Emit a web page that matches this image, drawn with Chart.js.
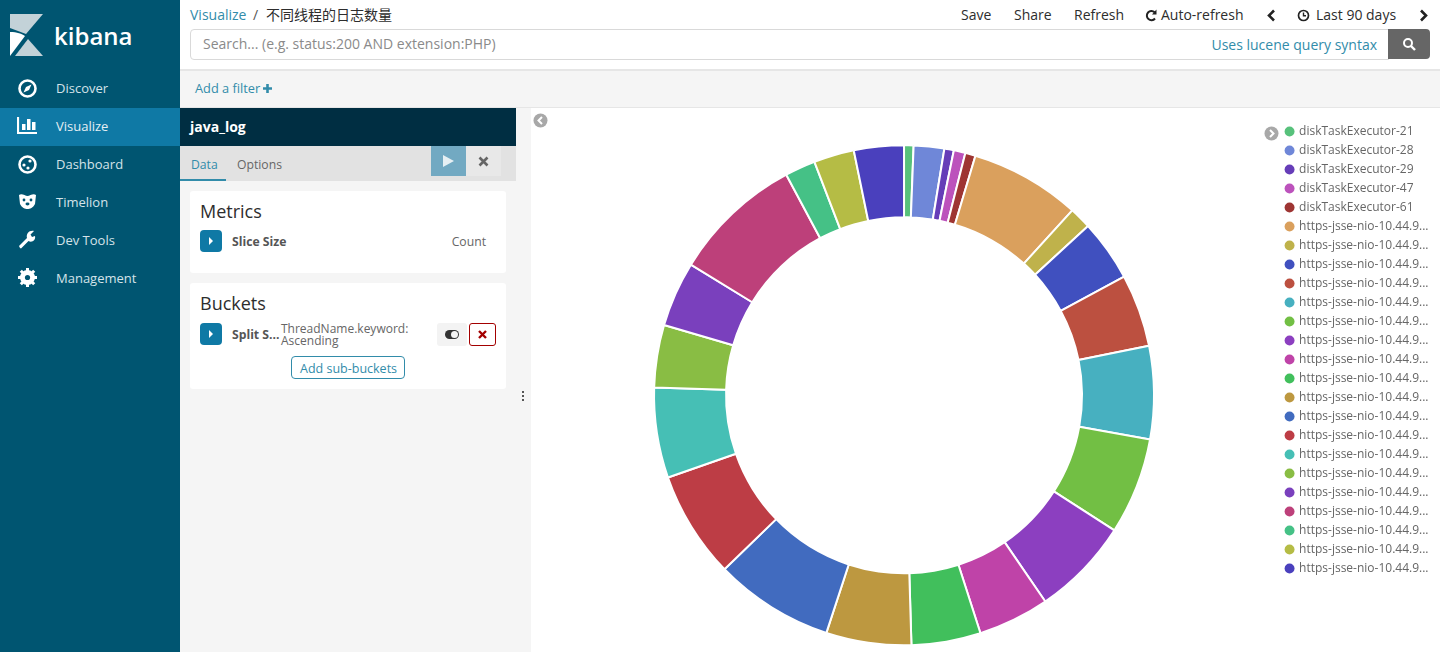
<!DOCTYPE html>
<html>
<head>
<meta charset="utf-8">
<title>不同线程的日志数量</title>
<script src="https://cdn.jsdelivr.net/npm/chart.js@4/dist/chart.umd.min.js"></script>
<style>
html, body { margin: 0; padding: 0; width: 1440px; height: 652px; overflow: hidden; background: #fff; }
body { font-family: "Open Sans", "Noto Sans CJK SC", sans-serif; color: #2d2d2d; font-size: 14px; }
.b { position: absolute; box-sizing: border-box; }
.t { position: absolute; white-space: nowrap; transform: translateY(-50%); line-height: 1.2; }
.link { color: #328caa; }
.nav { color: #d5e3e9; font-size: 13px; left: 56px; }
.ic { position: absolute; left: 17px; width: 21px; height: 21px; }
/* taller than the viewport on purpose: the ring centre has to sit low while the legend starts high */
#chartClip { position: absolute; left: 529px; top: 108px; width: 911px; height: 544px; overflow: hidden; }
#chartBox { position: absolute; left: 0; top: 0; width: 911px; height: 564px; }
</style>
</head>
<body>
<!-- sidebar -->
<div class="b" style="left:0;top:0;width:180px;height:652px;background:#005571"></div>
<div class="b" style="left:0;top:108px;width:180px;height:38px;background:#0f79a5"></div>
<svg class="b" style="left:10px;top:14px" width="34" height="43" viewBox="0 0 34 43">
  <polygon points="0,0 33,0 16,20 0,14" fill="#c3d2d8"/>
  <path d="M0,18 C7,18 12,20 15,22 L0,42 Z" fill="#fff"/>
  <polygon points="18,25 33,42 5,42" fill="#c3d2d8"/>
</svg>
<div class="t" style="left:54px;top:36px;font-size:24px;font-weight:600;color:#fff">kibana</div>
<svg class="ic" style="top:78px" viewBox="0 0 21 21"><circle cx="10.5" cy="10.5" r="8" fill="none" stroke="#fff" stroke-width="2.6"/><polygon points="14.5,6.5 12,12 6.5,14.5 9,9" fill="#fff"/></svg>
<svg class="ic" style="top:115px" viewBox="0 0 21 21"><path d="M1,2 V18 H20" fill="none" stroke="#fff" stroke-width="2.2"/><rect x="5" y="9" width="3.5" height="6" fill="#fff"/><rect x="10" y="4" width="3.5" height="11" fill="#fff"/><rect x="15" y="7" width="3.5" height="8" fill="#fff"/></svg>
<svg class="ic" style="top:154px" viewBox="0 0 21 21"><circle cx="10.5" cy="10.5" r="8" fill="none" stroke="#fff" stroke-width="2.6"/><circle cx="7" cy="11" r="1.6" fill="#fff"/><circle cx="13" cy="7" r="1.6" fill="#fff"/><circle cx="11" cy="14" r="1.6" fill="#fff"/></svg>
<svg class="ic" style="top:191px" viewBox="0 0 21 21"><path d="M2,4 C5,2 8,5 10.5,5 C13,5 16,2 19,4 L18,13 C16,17 13,18 10.5,18 C8,18 5,17 3,13 Z" fill="#fff"/><circle cx="7" cy="9" r="1.4" fill="#005571"/><circle cx="14" cy="9" r="1.4" fill="#005571"/><ellipse cx="10.5" cy="13" rx="2" ry="1.4" fill="#005571"/></svg>
<svg class="ic" style="top:229px" viewBox="0 0 21 21"><path d="M3,19 L2,17 L10,9 C9,5 12,1 17,2 L13.5,5.5 L15,8 L18,7 C19,11 15,14 11.5,12 L4,19.5 Z" fill="#fff"/></svg>
<svg class="ic" style="top:267px" viewBox="0 0 21 21"><circle cx="10.5" cy="10.5" r="5.5" fill="none" stroke="#fff" stroke-width="4"/><path d="M10.5,1 V20 M1,10.5 H20 M3.8,3.8 L17.2,17.2 M17.2,3.8 L3.8,17.2" stroke="#fff" stroke-width="3"/><circle cx="10.5" cy="10.5" r="2.6" fill="#005571"/></svg>
<div class="t nav" style="top:89px">Discover</div>
<div class="t nav" style="top:127px;color:#e4eff4">Visualize</div>
<div class="t nav" style="top:165px">Dashboard</div>
<div class="t nav" style="top:203px">Timelion</div>
<div class="t nav" style="top:241px">Dev Tools</div>
<div class="t nav" style="top:279px">Management</div>

<!-- top bar -->
<div class="t link" style="left:190px;top:15px">Visualize</div>
<div class="t" style="left:253px;top:15px;color:#555">/</div>
<div class="t" style="left:266px;top:15px;font-size:14px">不同线程的日志数量</div>
<div class="t" style="left:961px;top:15px">Save</div>
<div class="t" style="left:1014px;top:15px">Share</div>
<div class="t" style="left:1074px;top:15px">Refresh</div>
<svg class="b" style="left:1145px;top:9px" width="12" height="13" viewBox="0 0 12 13"><path d="M10,9.5 A4.6,4.6 0 1 1 9.6,3.2" fill="none" stroke="#222" stroke-width="2"/><polygon points="11.5,0.5 11.5,5.5 7,5.5" fill="#222"/></svg>
<div class="t" style="left:1161px;top:15px">Auto-refresh</div>
<svg class="b" style="left:1266px;top:9px" width="10" height="13" viewBox="0 0 10 13"><path d="M8,1.5 L3,6.5 L8,11.5" fill="none" stroke="#222" stroke-width="2.6"/></svg>
<svg class="b" style="left:1297px;top:9px" width="13" height="13" viewBox="0 0 13 13"><circle cx="6.5" cy="6.5" r="5" fill="none" stroke="#222" stroke-width="1.7"/><path d="M6.5,3.5 V6.8 H9" fill="none" stroke="#222" stroke-width="1.4"/></svg>
<div class="t" style="left:1316px;top:15px">Last 90 days</div>
<svg class="b" style="left:1419px;top:9px" width="10" height="13" viewBox="0 0 10 13"><path d="M2,1.5 L7,6.5 L2,11.5" fill="none" stroke="#222" stroke-width="2.6"/></svg>

<div class="b" style="left:190px;top:29px;width:1199px;height:31px;background:#fff;border:1px solid #d9d9d9;border-radius:4px 0 0 4px"></div>
<div class="t" style="left:203px;top:44px;font-size:14px;color:#8a8a8a">Search... (e.g. status:200 AND extension:PHP)</div>
<div class="t link" style="right:63px;top:45px;font-size:14px">Uses lucene query syntax</div>
<div class="b" style="left:1388px;top:29px;width:42px;height:30px;background:#666;border-radius:0 4px 4px 0"></div>
<svg class="b" style="left:1402px;top:37px" width="14" height="14" viewBox="0 0 14 14"><circle cx="6" cy="6" r="4" fill="none" stroke="#fff" stroke-width="2"/><path d="M9,9 L13,13" stroke="#fff" stroke-width="2.4"/></svg>

<!-- filter bar -->
<div class="b" style="left:180px;top:69px;width:1260px;height:39px;background:#f5f5f5;border-top:2px solid #e6e6e6;border-bottom:1px solid #e6e6e6"></div>
<div class="t link" style="left:195px;top:89px;font-size:12.8px">Add a filter</div>
<svg class="b" style="left:262px;top:83px" width="11" height="11" viewBox="0 0 11 11"><path d="M5.5,1 V10 M1,5.5 H10" stroke="#328caa" stroke-width="2.6"/></svg>

<!-- editor panel -->
<div class="b" style="left:180px;top:108px;width:351px;height:544px;background:#f5f5f5"></div>
<div class="b" style="left:180px;top:108px;width:336px;height:38px;background:#002e42"></div>
<div class="t" style="left:190px;top:127px;font-size:14px;font-weight:700;color:#fff">java_log</div>
<div class="b" style="left:180px;top:146px;width:336px;height:35px;background:#e2e2e2"></div>
<div class="b" style="left:180px;top:179px;width:46px;height:2px;background:#328caa"></div>
<div class="t link" style="left:191px;top:165px;font-size:12.2px">Data</div>
<div class="t" style="left:237px;top:165px;font-size:12.2px;color:#666">Options</div>
<div class="b" style="left:431px;top:146px;width:35px;height:30px;background:#72a9c2"></div>
<svg class="b" style="left:442px;top:154px" width="13" height="14" viewBox="0 0 13 14"><polygon points="1,1 12,7 1,13" fill="#e6eff3"/></svg>
<div class="b" style="left:466px;top:146px;width:35px;height:30px;background:#e8e8e8"></div>
<svg class="b" style="left:478px;top:156px" width="11" height="11" viewBox="0 0 11 11"><path d="M1.5,1.5 L9.5,9.5 M9.5,1.5 L1.5,9.5" stroke="#666" stroke-width="2.6"/></svg>

<div class="b" style="left:190px;top:191px;width:316px;height:82px;background:#fff;border-radius:3px"></div>
<div class="t" style="left:200px;top:212px;font-size:18px">Metrics</div>
<div class="b" style="left:200px;top:230px;width:22px;height:22px;background:#0f79a5;border-radius:4px"></div>
<svg class="b" style="left:208px;top:237px" width="6" height="8" viewBox="0 0 6 8"><polygon points="1,0 5,4 1,8" fill="#fff"/></svg>
<div class="t" style="left:232px;top:242px;font-size:12.2px;font-weight:700;color:#555">Slice Size</div>
<div class="t" style="right:954px;top:242px;font-size:12.2px;color:#666">Count</div>

<div class="b" style="left:190px;top:283px;width:316px;height:106px;background:#fff;border-radius:3px"></div>
<div class="t" style="left:200px;top:304px;font-size:18px">Buckets</div>
<div class="b" style="left:200px;top:323px;width:22px;height:22px;background:#0f79a5;border-radius:4px"></div>
<svg class="b" style="left:208px;top:330px" width="6" height="8" viewBox="0 0 6 8"><polygon points="1,0 5,4 1,8" fill="#fff"/></svg>
<div class="t" style="left:232px;top:335px;font-size:12.2px;font-weight:700;color:#555">Split S...</div>
<div class="t" style="left:281px;top:329px;font-size:12px;color:#666">ThreadName.keyword:</div>
<div class="t" style="left:281px;top:341px;font-size:12px;color:#666">Ascending</div>
<div class="b" style="left:437px;top:323px;width:30px;height:23px;background:#f3f3f3;border-radius:3px"></div>
<div class="b" style="left:445px;top:330px;width:14px;height:9px;background:#333;border-radius:5px"></div>
<div class="b" style="left:451px;top:331px;width:7px;height:7px;background:#f3f3f3;border-radius:50%"></div>
<div class="b" style="left:469px;top:323px;width:27px;height:23px;background:#fff;border:1px solid #a30000;border-radius:3px"></div>
<svg class="b" style="left:478px;top:330px" width="9" height="9" viewBox="0 0 9 9"><path d="M1,1 L8,8 M8,1 L1,8" stroke="#a30000" stroke-width="2.4"/></svg>
<div class="b" style="left:291px;top:356px;width:114px;height:23px;background:#fff;border:1px solid #328caa;border-radius:4px"></div>
<div class="t link" style="left:300px;top:368px;font-size:12.5px">Add sub-buckets</div>
<div class="b" style="left:522px;top:391px;width:2px;height:2px;background:#555;box-shadow:0 4px 0 #555,0 8px 0 #555"></div>

<!-- chart -->
<div class="b" style="left:531px;top:108px;width:909px;height:544px;background:#fff"></div>
<div id="chartClip"><div id="chartBox"><canvas id="myChart"></canvas></div></div>
<svg class="b" style="left:533px;top:113px" width="15" height="15" viewBox="0 0 15 15"><circle cx="7.5" cy="7.5" r="7" fill="#a8a8a8"/><path d="M9,4 L5.5,7.5 L9,11" fill="none" stroke="#fff" stroke-width="2"/></svg>
<svg class="b" style="left:1264px;top:126px" width="15" height="15" viewBox="0 0 15 15"><circle cx="7.5" cy="7.5" r="7" fill="#a8a8a8"/><path d="M6,4 L9.5,7.5 L6,11" fill="none" stroke="#fff" stroke-width="2"/></svg>

<script>
const threadNames = [
    'diskTaskExecutor-21', 'diskTaskExecutor-28', 'diskTaskExecutor-29',
    'diskTaskExecutor-47', 'diskTaskExecutor-61',
    'https-jsse-nio-10.44.9...', 'https-jsse-nio-10.44.9...', 'https-jsse-nio-10.44.9...',
    'https-jsse-nio-10.44.9...', 'https-jsse-nio-10.44.9...', 'https-jsse-nio-10.44.9...',
    'https-jsse-nio-10.44.9...', 'https-jsse-nio-10.44.9...', 'https-jsse-nio-10.44.9...',
    'https-jsse-nio-10.44.9...', 'https-jsse-nio-10.44.9...', 'https-jsse-nio-10.44.9...',
    'https-jsse-nio-10.44.9...', 'https-jsse-nio-10.44.9...', 'https-jsse-nio-10.44.9...',
    'https-jsse-nio-10.44.9...', 'https-jsse-nio-10.44.9...', 'https-jsse-nio-10.44.9...',
    'https-jsse-nio-10.44.9...'
];
const logCounts = [
    2.2, 7.1, 2.2, 2.7, 2.4, 25.7, 5.1, 14.3, 16.9, 21.6, 22.5, 22.9,
    16.6, 16.1, 19.8, 27.8, 24.9, 21, 14.5, 15.2, 30.4, 7.1, 9.4, 11.6
];
const sliceColors = [
    '#57c17b', '#6f87d8', '#663db8', '#bc52bc', '#9e3533', '#daa05d',
    '#bfb24b', '#4050bf', '#bc5040', '#47b0c0', '#72bf44', '#8c3fc0',
    '#bf43a8', '#41bf5c', '#bd9840', '#416bbf', '#bd3d45', '#46bfb5',
    '#89bd44', '#7a40bd', '#bd407a', '#45c186', '#b5bc45', '#4a40bd'
];

const ctx = document.getElementById('myChart').getContext('2d');
const chart = new Chart(ctx, {
    type: 'doughnut',
    data: {
        labels: threadNames,
        datasets: [{
            data: logCounts,
            backgroundColor: sliceColors,
            borderColor: '#fff',
            borderWidth: 2,
            radius: 250,
            cutout: '71.2%'
        }]
    },
    options: {
        responsive: true,
        maintainAspectRatio: false,
        animation: false,
        layout: { padding: { top: 10.5, right: 1.5 } },
        plugins: {
            tooltip: { enabled: false },
            legend: {
                position: 'right',
                align: 'start',
                labels: {
                    usePointStyle: true,
                    pointStyle: 'circle',
                    boxWidth: 7,
                    boxHeight: 7,
                    padding: 7,
                    color: '#666',
                    font: { family: '"Open Sans"', size: 12 },
                    // no white slice border on the legend dots
                    generateLabels: c => Chart.overrides.doughnut.plugins.legend.labels
                        .generateLabels(c).map(item => ({ ...item, lineWidth: 0 }))
                }
            }
        }
    }
});
</script>
</body>
</html>
